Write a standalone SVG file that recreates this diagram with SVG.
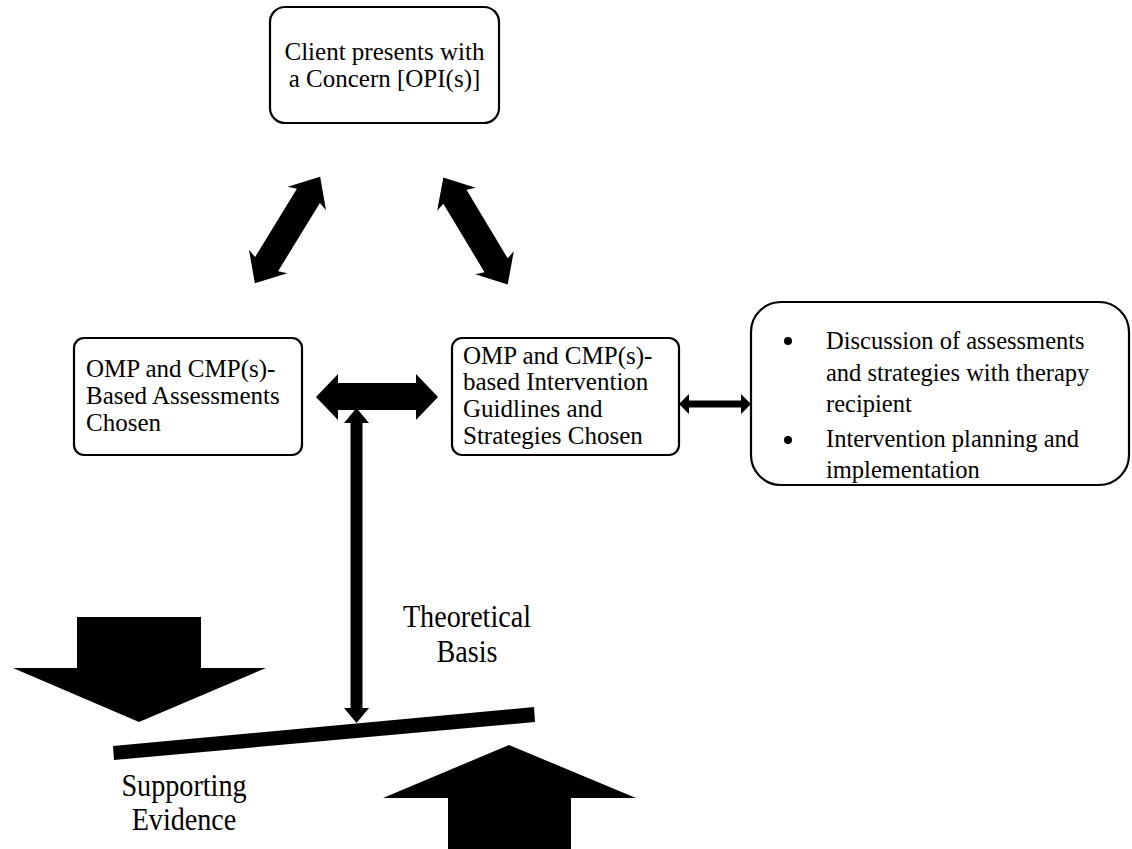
<svg xmlns="http://www.w3.org/2000/svg" width="1132" height="849" viewBox="0 0 1132 849">
<style>
.box{fill:#fff;stroke:#000;stroke-width:2.2}
text{font-family:'Liberation Serif','Times New Roman',Times,serif;fill:#000}
.t{font-size:25px}
.tr{font-size:24.5px}
.big{font-size:32px;text-anchor:middle}
.ar{fill:#000}
</style>
<rect width="1132" height="849" fill="#fff"/>
<g id="client">
<rect class="box" x="270" y="7" width="229" height="116" rx="15"/>
<text class="t" font-family="Liberation Serif" x="384.5" y="60" text-anchor="middle">Client presents with</text>
<text class="t" font-family="Liberation Serif" x="384.5" y="87" text-anchor="middle">a Concern [OPI(s)]</text>
</g>
<g id="assessments">
<rect class="box" x="74" y="338" width="228" height="117" rx="10"/>
<text class="t" font-family="Liberation Serif" x="86" y="377">OMP and CMP(s)-</text>
<text class="t" font-family="Liberation Serif" x="86" y="404">Based Assessments</text>
<text class="t" font-family="Liberation Serif" x="86" y="431">Chosen</text>
</g>
<g id="intervention">
<rect class="box" x="452" y="338" width="227" height="117" rx="10"/>
<text class="t" font-family="Liberation Serif" x="463" y="364">OMP and CMP(s)-</text>
<text class="t" font-family="Liberation Serif" x="463" y="390">based Intervention</text>
<text class="t" font-family="Liberation Serif" x="463" y="417">Guidlines and</text>
<text class="t" font-family="Liberation Serif" x="463" y="444">Strategies Chosen</text>
</g>
<g id="discussion">
<rect class="box" x="751" y="302" width="378" height="183" rx="30"/>
<circle cx="788" cy="341" r="4"/>
<text class="tr" font-family="Liberation Serif" x="826" y="349">Discussion of assessments</text>
<text class="tr" font-family="Liberation Serif" x="826" y="381">and strategies with therapy</text>
<text class="tr" font-family="Liberation Serif" x="826" y="412">recipient</text>
<circle cx="788" cy="440" r="4"/>
<text class="tr" font-family="Liberation Serif" x="826" y="447">Intervention planning and</text>
<text class="tr" font-family="Liberation Serif" x="826" y="478">implementation</text>
</g>
<g id="connectors">
<defs>
<polygon id="diag" points="-62.5,0 -37,-22.5 -40,-13.5 40,-13.5 37,-22.5 62.5,0 37,22.5 40,13.5 -40,13.5 -37,22.5"/>
</defs>
<use href="#diag" class="ar" transform="translate(287.5,230) rotate(-58.5)"/>
<use href="#diag" class="ar" transform="translate(475.5,231) rotate(59)"/>
<polygon class="ar" points="316,397 338,374 338,383 416,383 416,374 438,397 416,420 416,410 338,410 338,420"/>
<polygon class="ar" points="356.5,408 369,423 362.5,423 362.5,708 369,708 356.5,723 344,708 350.5,708 350.5,423 344,423"/>
<polygon class="ar" points="679,404 689,394 689,400.5 741,400.5 741,394 751,404 741,414 741,407.5 689,407.5 689,414"/>
</g>
<g id="balance">
<polygon class="ar" points="77,617 201,617 201,668 266,668 139,722 13,668 77,668"/>
<polygon class="ar" points="509,745 636,798 571,798 571,849 448,849 448,798 383,798"/>
<polygon class="ar" points="113,746 534,707 535,722 114,760"/>
<g transform="translate(467,0) scale(0.88,1)">
<text class="big" font-family="Liberation Serif" x="0" y="627">Theoretical</text>
<text class="big" font-family="Liberation Serif" x="0" y="662">Basis</text>
</g>
<g transform="translate(184,0) scale(0.88,1)">
<text class="big" font-family="Liberation Serif" x="0" y="796">Supporting</text>
<text class="big" font-family="Liberation Serif" x="0" y="830">Evidence</text>
</g>
</g>
</svg>
